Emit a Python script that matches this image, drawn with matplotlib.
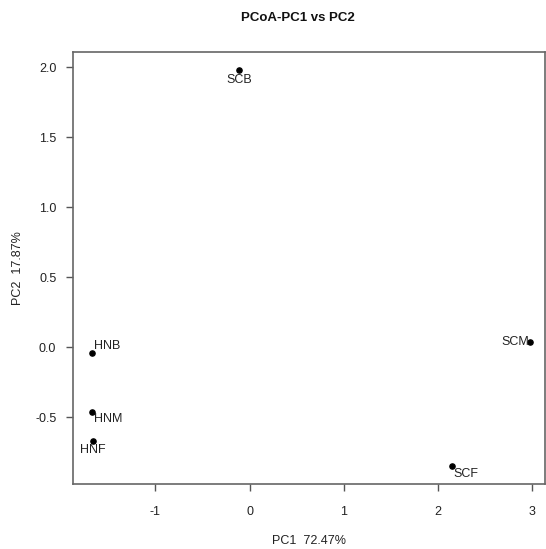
import matplotlib
matplotlib.use('Agg')
import matplotlib.pyplot as plt

plt.rcParams['font.family'] = ['Liberation Sans', 'DejaVu Sans']
plt.rcParams['axes.unicode_minus'] = False

samples = ['SCB', 'HNB', 'HNM', 'HNF', 'SCM', 'SCF']
pc1 = [-0.11, -1.67, -1.67, -1.66, 2.98, 2.15]
pc2 = [1.98, -0.04, -0.46, -0.67, 0.04, -0.85]
# label offsets in points (dx, dy) and alignment
label_pos = {
    'SCB': (0, -3, 'center', 'top'),
    'HNB': (1, 1, 'left', 'bottom'),
    'HNM': (1, -1, 'left', 'top'),
    'HNF': (0, -2, 'center', 'top'),
    'SCM': (-1, 0, 'right', 'center'),
    'SCF': (1, -1, 'left', 'top'),
}

fig = plt.figure(figsize=(5.46, 5.49), dpi=100)
ax = fig.add_axes([73 / 546, 1 - 484 / 549, (545 - 73) / 546, (484 - 52) / 549])

ax.scatter(pc1, pc2, s=14, color='black', zorder=3)
for name, x, y in zip(samples, pc1, pc2):
    dx, dy, ha, va = label_pos[name]
    ax.annotate(name, (x, y), xytext=(dx, dy), textcoords='offset points',
                ha=ha, va=va, fontsize=9, color='#222222')

ax.set_xlim(-1.874, 3.137)
ax.set_ylim(-0.975, 2.11)
ax.set_xticks([-1, 0, 1, 2, 3])
ax.set_yticks([-0.5, 0.0, 0.5, 1.0, 1.5, 2.0])
ax.set_yticklabels(['-0.5', '0.0', '0.5', '1.0', '1.5', '2.0'])

for sp in ax.spines.values():
    sp.set_color('#666666')
    sp.set_linewidth(1.2)
ax.tick_params(direction='out', length=5, width=1, color='#555555',
               labelsize=9, labelcolor='#222222')
ax.tick_params(axis='x', pad=11)
ax.tick_params(axis='y', pad=7)

ax.set_xlabel('PC1  72.47%', fontsize=9, color='#222222', labelpad=12)
ax.set_ylabel('PC2  17.87%', fontsize=9, color='#222222', labelpad=8)
fig.text(298 / 546, 1 - 18 / 549, 'PCoA-PC1 vs PC2', ha='center', va='center',
         fontsize=9.5, fontweight='bold', color='#111111')

fig.savefig('out.png', dpi=100)
